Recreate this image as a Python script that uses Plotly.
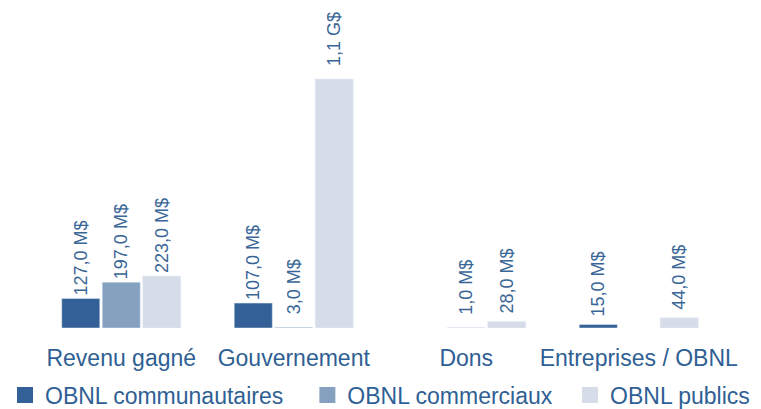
import plotly.graph_objects as go

categories = ["Revenu gagné", "Gouvernement", "Dons", "Entreprises / OBNL"]
series_names = ["OBNL communautaires", "OBNL commerciaux", "OBNL publics"]
communautaires = [127.0, 107.0, None, 15.0]
commerciaux = [197.0, 3.0, 1.0, None]
publics = [223.0, 1070.0, 28.0, 44.0]
labels_communautaires = ["127,0 M$", "107,0 M$", "", "15,0 M$"]
labels_commerciaux = ["197,0 M$", "3,0 M$", "1,0 M$", ""]
labels_publics = ["223,0 M$", "1,1 G$", "28,0 M$", "44,0 M$"]

colors = ["#336096", "#86a1bf", "#d6dde8"]
text_color = "#3a6696"
font_family = "Liberation Sans, Arial, sans-serif"
legend_suffix = ["\u00a0\u00a0\u00a0", "\u00a0\u00a0", ""]

# plot area: left edge at 35 px, right margin 0; category centres every 172.5 px
plot_left, plot_w = 35, 726
x_min = -0.5
x_max = x_min + plot_w / 172.5

# the reference centres each visible value label at a fixed distance above its
# bar: lift shorter labels with a few leading no-break spaces
_em = {",": 0.278, " ": 0.278, "M": 0.833, "G": 0.778, "$": 0.556}


def centred(label, centre_em=2.1667):
    if not label:
        return label
    w = sum(_em.get(c, 0.556) for c in label)
    n = max(0, round((centre_em - w / 2) / 0.278))
    return "\u00a0" * n + label


fig = go.Figure()
for name, vals, labs, col, suf in zip(series_names,
                                      [communautaires, commerciaux, publics],
                                      [labels_communautaires, labels_commerciaux, labels_publics],
                                      colors, legend_suffix):
    fig.add_trace(go.Bar(
        x=categories, y=vals, name=name, marker_color=col,
        text=[centred(s) for s in labs], textposition="outside", textangle=-90,
        textfont=dict(size=18, color=text_color, family=font_family),
        constraintext="none", cliponaxis=False, showlegend=False,
        hoverinfo="skip",
    ))
    fig.add_trace(go.Scatter(
        x=[None], y=[None], mode="markers", name=name + suf,
        marker=dict(symbol="square", size=16, color=col),
        showlegend=True,
    ))

fig.update_layout(
    width=761, height=409,
    margin=dict(l=plot_left, r=0, t=5, b=81, autoexpand=False),
    paper_bgcolor="white", plot_bgcolor="white",
    barmode="group", bargap=0.296, bargroupgap=0.06,
    font=dict(family=font_family, color=text_color),
    xaxis=dict(showgrid=False, showline=False, zeroline=False, ticks="",
               range=[x_min, x_max], ticklabelstandoff=14,
               tickfont=dict(size=23, color="#2f5f94", family=font_family)),
    yaxis=dict(visible=False, range=[0, 1070 * 323 / 249]),
    legend=dict(orientation="h", x=(5 - plot_left) / plot_w, xanchor="left",
                y=(328 - 395) / 323, yanchor="middle",
                bgcolor="rgba(0,0,0,0)",
                font=dict(size=23, color="#2f5f94", family=font_family),
                itemsizing="trace", tracegroupgap=0, itemclick=False),
    showlegend=True,
)

fig.write_html("out.html", config={"displayModeBar": False},
               post_script="document.body.style.margin='0';")
